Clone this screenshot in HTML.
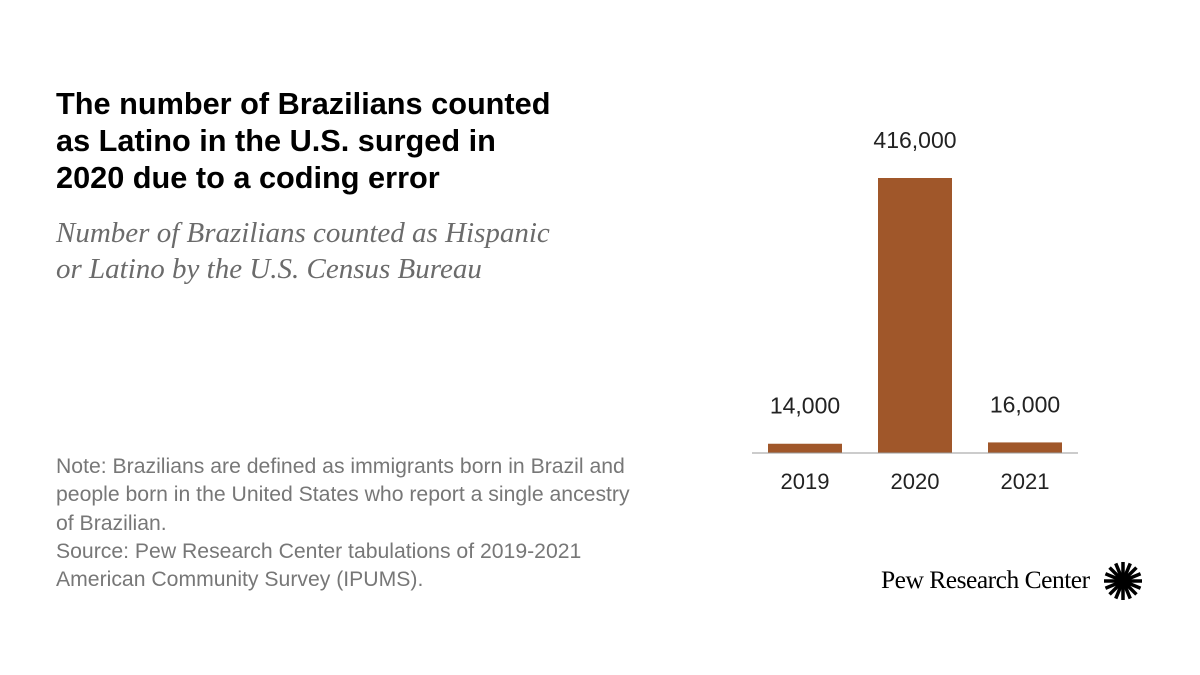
<!DOCTYPE html>
<html><head><meta charset="utf-8"><style>
body{margin:0;width:1200px;height:675px;background:#fff;position:relative;overflow:hidden;font-family:"Liberation Sans",sans-serif}
.t{position:absolute;left:56px;top:85px;font-size:30.7px;font-weight:bold;line-height:37px;color:#000;white-space:nowrap}
.s{position:absolute;left:56px;top:215px;font-family:"Liberation Serif",serif;font-style:italic;font-size:29px;line-height:36px;color:#6b6b6b;white-space:nowrap}
.n{position:absolute;left:56px;top:453px;font-size:21.2px;line-height:28.3px;color:#777;white-space:nowrap}
.logo{position:absolute;left:881px;top:565px;font-family:"Liberation Serif",serif;font-size:25.5px;color:#000;letter-spacing:-0.5px;white-space:nowrap}
</style></head><body>
<div class="t">The number of Brazilians counted<br>as Latino in the U.S. surged in<br>2020 due to a coding error</div>
<div class="s">Number of Brazilians counted as Hispanic<br>or Latino by the U.S. Census Bureau</div>
<div class="n">Note: Brazilians are defined as immigrants born in Brazil and<br>people born in the United States who report a single ancestry<br>of Brazilian.<br>Source: Pew Research Center tabulations of 2019-2021<br>American Community Survey (IPUMS).</div>
<div class="logo">Pew Research Center</div>
<svg id="logo" style="position:absolute;left:1102px;top:560px" width="42" height="42"></svg>
<svg id="chart" width="1200" height="675" style="position:absolute;left:0;top:0"></svg>
<script>
const categories=["2019","2020","2021"];
const values=[14000,416000,16000];
const valueLabels=["14,000","416,000","16,000"];
const NS="http://www.w3.org/2000/svg";
const svg=document.getElementById('chart');
const baseY=453, yScale=v=>baseY-v/416000*275;
const xScale=i=>768+i*110, bw=74;
function mk(t,a){const e=document.createElementNS(NS,t);for(const k in a)e.setAttribute(k,a[k]);return e;}
categories.forEach((c,i)=>{
 const r=mk('rect',{x:xScale(i),y:yScale(values[i]),width:bw,height:baseY-yScale(values[i]),fill:'#a0572a'});
 
 
 svg.appendChild(r);
 const v=mk('text',{x:xScale(i)+bw/2,y:yScale(values[i])-30,'text-anchor':'middle','font-size':23,fill:'#222','font-family':'Liberation Sans'});
 v.textContent=valueLabels[i];
 
 
 svg.appendChild(v);
 const l=mk('text',{x:xScale(i)+bw/2,y:489,'text-anchor':'middle','font-size':22,fill:'#222','font-family':'Liberation Sans'});
 l.textContent=c;
 
 
 svg.appendChild(l);
});
const ax=mk('line',{x1:752,x2:1078,y1:baseY,y2:baseY,stroke:'#999','stroke-width':1});


svg.appendChild(ax);
const lg=document.getElementById('logo');
for(let k=0;k<16;k++){const a=k*Math.PI/8;
 const p=mk('line',{x1:21+4*Math.cos(a),y1:21+4*Math.sin(a),x2:21+19*Math.cos(a),y2:21+19*Math.sin(a),stroke:'#000','stroke-width':3.5});
 lg.appendChild(p);}
lg.appendChild(mk('circle',{cx:21,cy:21,r:6,fill:'#000'}));
</script>
</body></html>
